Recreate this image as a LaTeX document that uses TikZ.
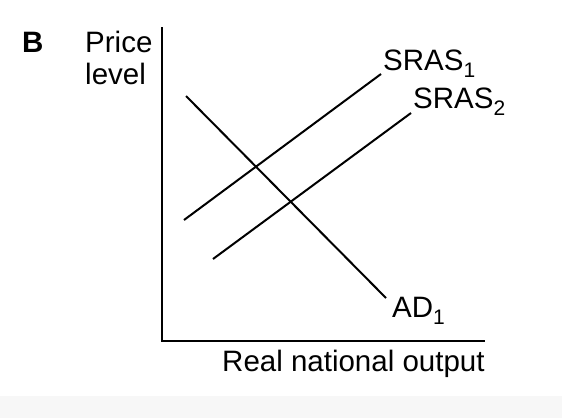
\documentclass[tikz,border=0pt]{standalone}
\usepackage{fontspec}
\setmainfont{Liberation Sans}
\newcommand{\lowsub}[1]{\raisebox{-7pt}{\fontsize{21}{21}\selectfont #1}}
\tikzset{
  curve/.style={line width=2pt, black},
  axis/.style={line width=2.3pt, black},
  lbl/.style={inner sep=0pt, anchor=base west, font=\fontsize{29.5}{33}\selectfont}
}
\begin{document}
\begin{tikzpicture}[x=1pt,y=-1pt]
  \useasboundingbox (0,0) rectangle (562,418);
  % Bottom strip
  \fill[black!3] (0,396) rectangle (562,418);

  % Axes
  \coordinate (top) at (162,27);
  \coordinate (origin) at (162,341);
  \coordinate (right) at (485,341);
  \draw[axis] (top) -- (origin) -- (right);

  % Axis labels
  \node[lbl, font=\fontsize{29.5}{33}\selectfont\bfseries] (panel) at (22,52) {B};
  \node[lbl] (price) at (85,52) {Price};
  \node[lbl] (level) at (85,84) {level};
  \node[lbl] (output) at (222,371) {Real national output};

  % Aggregate demand
  \coordinate (ad start) at (186,96);
  \coordinate (ad end) at (386,298);
  \draw[curve] (ad start) -- (ad end);
  \node[lbl] (ad1) at (392,317) {AD\lowsub{1}};

  % Short-run aggregate supply
  \coordinate (sras1 start) at (184,220);
  \coordinate (sras1 end) at (381,74);
  \draw[curve] (sras1 start) -- (sras1 end);
  \node[lbl] (sras1) at (383,70) {SRAS\lowsub{1}};

  \coordinate (sras2 start) at (213,259);
  \coordinate (sras2 end) at (411,113);
  \draw[curve] (sras2 start) -- (sras2 end);
  \node[lbl] (sras2) at (413,108) {SRAS\lowsub{2}};
\end{tikzpicture}
\end{document}
